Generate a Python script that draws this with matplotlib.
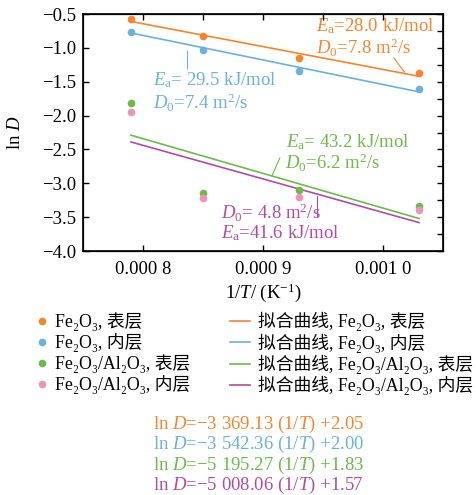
import matplotlib
matplotlib.use('Agg')
import matplotlib.pyplot as plt
from matplotlib.lines import Line2D
from matplotlib.ticker import FixedLocator, FuncFormatter

plt.rcParams['font.family'] = ['Liberation Serif', 'Noto Sans CJK SC', 'DejaVu Serif']
plt.rcParams['mathtext.fontset'] = 'custom'
plt.rcParams['mathtext.rm'] = 'Liberation Serif'
plt.rcParams['mathtext.it'] = 'Liberation Serif:italic'
plt.rcParams['axes.unicode_minus'] = True

# data
inv_T = [0.000790, 0.000850, 0.000930, 0.001030]
lnD_fe_surface = [-0.57, -0.83, -1.15, -1.37]
lnD_fe_inner = [-0.77, -1.03, -1.34, -1.61]
lnD_feal_surface = [-1.81, -3.15, -3.10, -3.33]
lnD_feal_inner = [-1.95, -3.22, -3.20, -3.39]

# fitted lines (end points)
fit_x = [0.000790, 0.001030]
fit_fe_surface = [-0.61, -1.42]
fit_fe_inner = [-0.78, -1.65]
fit_feal_surface = [-2.29, -3.52]
fit_feal_inner = [-2.39, -3.58]

point_labels = ['Fe₂O₃, 表层', 'Fe₂O₃, 内层', 'Fe₂O₃/Al₂O₃, 表层', 'Fe₂O₃/Al₂O₃, 内层']
fit_labels = ['拟合曲线, Fe₂O₃, 表层', '拟合曲线, Fe₂O₃, 内层',
              '拟合曲线, Fe₂O₃/Al₂O₃, 表层', '拟合曲线, Fe₂O₃/Al₂O₃, 内层']
equations = [r'ln $D$=−3 369.13 (1/$T$) +2.05',
             r'ln $D$=−3 542.36 (1/$T$) +2.00',
             r'ln $D$=−5 195.27 (1/$T$) +1.83',
             r'ln $D$=−5 008.06 (1/$T$) +1.57']

point_colors = ['#F5852B', '#68B2DC', '#6CBB47', '#EE93BC']
line_colors = ['#F5852B', '#68B2DC', '#6CBB47', '#B04CA6']

fig = plt.figure(figsize=(4.77, 4.95), dpi=100)
ax = fig.add_axes([83 / 477, 1 - 251 / 495, 360 / 477, 237 / 495])

points = [lnD_fe_surface, lnD_fe_inner, lnD_feal_surface, lnD_feal_inner]
fits = [fit_fe_surface, fit_fe_inner, fit_feal_surface, fit_feal_inner]

for ys, c in zip(fits, line_colors):
    ax.plot(fit_x, ys, color=c, lw=1.2, zorder=2)
for ys, c in zip(points, point_colors):
    ax.plot(inv_T, ys, 'o', color=c, ms=5.5, mec='none', zorder=3)

# annotations
fs = 13.5
ax.text(0.000944, -0.68, r'$E_\mathrm{a}$=28.0 kJ/mol', color=line_colors[0], fontsize=fs, va='center')
ax.text(0.000944, -1.00, r'$D_0$=7.8 m$^2$/s', color=line_colors[0], fontsize=fs, va='center')
ax.plot([0.001009, 0.001018], [-1.15, -1.36], color=line_colors[0], lw=0.8)

ax.text(0.000808, -1.475, r'$E_\mathrm{a}$= 29.5 kJ/mol', color=line_colors[1], fontsize=fs, va='center')
ax.text(0.000808, -1.815, r'$D_0$=7.4 m$^2$/s', color=line_colors[1], fontsize=fs, va='center')
ax.plot([0.000837, 0.000837], [-1.05, -1.30], color=line_colors[1], lw=0.8)

ax.text(0.000919, -2.39, r'$E_\mathrm{a}$= 43.2 kJ/mol', color=line_colors[2], fontsize=fs, va='center')
ax.text(0.000918, -2.70, r'$D_0$=6.2 m$^2$/s', color=line_colors[2], fontsize=fs, va='center')
ax.plot([0.0009077, 0.000914], [-2.878, -2.627], color=line_colors[2], lw=0.8)

ax.text(0.000865, -3.44, r'$D_0$= 4.8 m$^2$/s', color=line_colors[3], fontsize=fs, va='center')
ax.text(0.000865, -3.73, r'$E_\mathrm{a}$=41.6 kJ/mol', color=line_colors[3], fontsize=fs, va='center')
ax.plot([0.000945, 0.000945], [-3.19, -3.50], color=line_colors[3], lw=0.8)

ax.set_xlim(0.00075, 0.00105)
ax.set_ylim(-4.0, -0.5)
ax.xaxis.set_major_locator(FixedLocator([0.0008, 0.0009, 0.0010]))
ax.xaxis.set_major_formatter(FuncFormatter(lambda v, p: {0: '0.000 8', 1: '0.000 9', 2: '0.001 0'}[p]))
ax.set_yticks([-0.5, -1.0, -1.5, -2.0, -2.5, -3.0, -3.5, -4.0])
ax.yaxis.set_major_formatter(FuncFormatter(lambda v, p: f'{v:.1f}'.replace('-', '−')))
ax.tick_params(direction='in', length=4, width=1, labelsize=13.5)
ax.tick_params(axis='x', pad=7)
ax.tick_params(axis='y', pad=5)
for s in ax.spines.values():
    s.set_linewidth(1.2)

# top and right ticks with finer spacing
axt = ax.twiny()
axt.set_xlim(ax.get_xlim())
axt.set_xticks([0.0008, 0.00085, 0.0009, 0.00095, 0.0010])
axt.tick_params(direction='in', length=4, width=1, labeltop=False)
axr = ax.twinx()
axr.set_ylim(ax.get_ylim())
axr.set_yticks([-0.5 - 0.25 * i for i in range(15)])
axr.tick_params(direction='in', length=4, width=1, labelright=False)

ax.set_xlabel(r'1/$T$/ (K$^{-1}$)', fontsize=13.5, labelpad=3)
ax.set_ylabel(r'ln $D$', fontsize=13.5, labelpad=13)

# legends
h1 = [Line2D([], [], ls='none', marker='o', ms=5.5, mec='none', color=c) for c in point_colors]
h2 = [Line2D([], [], color=c, lw=1.2) for c in line_colors]
leg1 = fig.legend(h1, point_labels, loc='upper left', bbox_to_anchor=(33 / 477, 1 - 312 / 495),
                  frameon=False, fontsize=12.8, handlelength=1.0, handletextpad=0.25,
                  labelspacing=0.12, borderpad=0, borderaxespad=0)
leg2 = fig.legend(h2, fit_labels, loc='upper left', bbox_to_anchor=(230 / 477, 1 - 312 / 495),
                  frameon=False, fontsize=12.8, handlelength=1.1, handletextpad=0.5,
                  labelspacing=0.12, borderpad=0, borderaxespad=0)

for i, (eq, c) in enumerate(zip(equations, line_colors)):
    fig.text(153 / 477, 1 - (424 + 20.5 * i) / 495, eq, color=c, fontsize=13.5, va='center')

fig.savefig('out.png', dpi=100)
